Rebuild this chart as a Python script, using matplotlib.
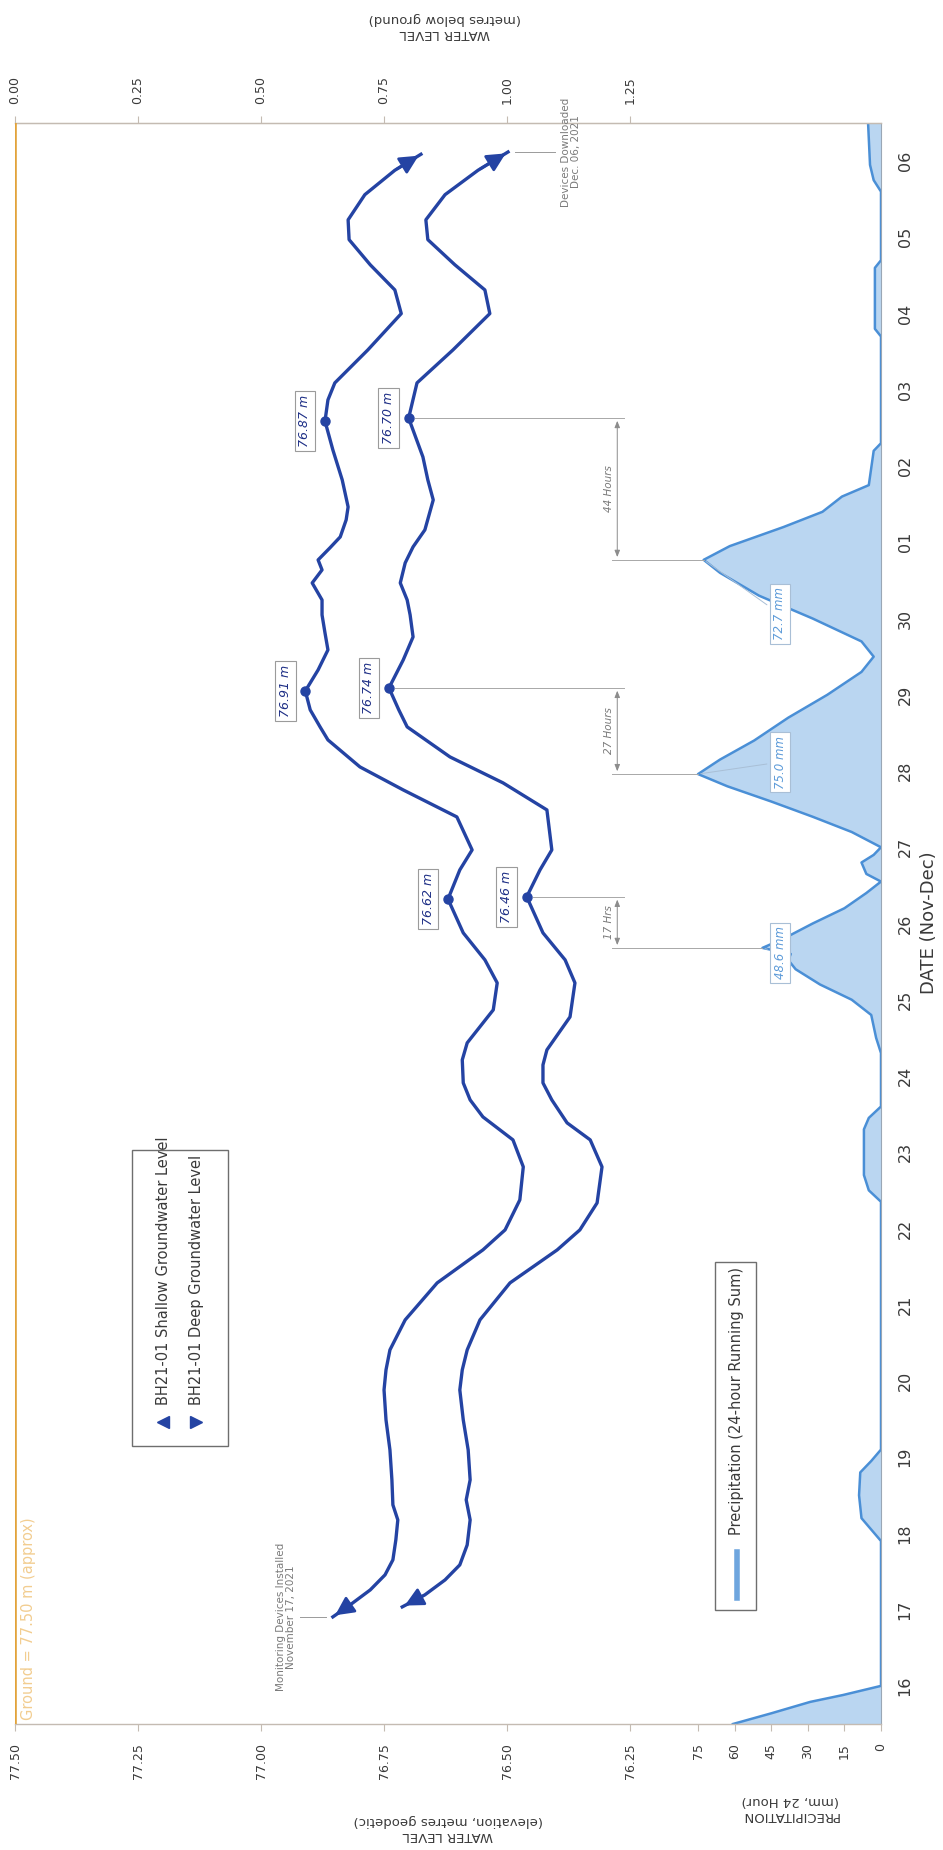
import matplotlib
matplotlib.use("Agg")
import matplotlib.pyplot as plt
from matplotlib.patches import FancyArrowPatch, Rectangle
from matplotlib.lines import Line2D

plt.rcParams["font.family"] = ["DejaVu Sans"]
NARROW = ["Liberation Sans Narrow", "DejaVu Sans"]

# ---------------------------------------------------------------- data
# time axis: days after 16 Nov 2021 00:00
date_labels = ["16", "17", "18", "19", "20", "21", "22", "23", "24", "25",
               "26", "27", "28", "29", "30", "01", "02", "03", "04", "05", "06"]

elevation_ticks = [77.50, 77.25, 77.00, 76.75, 76.50, 76.25]
depth_ticks = [0.00, 0.25, 0.50, 0.75, 1.00, 1.25]
precip_ticks = [0, 15, 30, 45, 60, 75]

ground_elev = 77.50

shallow_day = [0.905, 1.062, 1.259, 1.456, 1.653, 1.915, 2.177, 2.374, 2.702, 3.095,
               3.489, 3.882, 4.145, 4.407, 4.801, 5.286, 5.719, 5.981, 6.375, 6.808,
               7.162, 7.463, 7.686, 7.909, 8.211, 8.434, 8.867, 9.221, 9.523, 9.877,
               10.32, 10.703, 10.965, 11.398, 11.752, 12.054, 12.408, 12.579, 12.802, 13.05,
               13.326, 13.589, 13.812, 14.048, 14.244, 14.467, 14.638, 14.769, 14.927, 15.071,
               15.294, 15.464, 15.819, 16.212, 16.59, 16.868, 17.091, 17.523, 18.0, 18.31,
               18.64, 18.97, 19.23, 19.56, 19.88, 20.09]
shallow_elev = [76.854, 76.819, 76.778, 76.748, 76.732, 76.726, 76.722, 76.732, 76.734, 76.738,
                76.746, 76.750, 76.746, 76.738, 76.707, 76.642, 76.549, 76.504, 76.474, 76.467,
                76.488, 76.549, 76.575, 76.589, 76.591, 76.581, 76.528, 76.520, 76.545, 76.589,
                76.62, 76.596, 76.571, 76.602, 76.711, 76.799, 76.864, 76.880, 76.900, 76.91,
                76.884, 76.864, 76.870, 76.876, 76.876, 76.896, 76.876, 76.884, 76.860, 76.839,
                76.827, 76.823, 76.835, 76.854, 76.87, 76.864, 76.850, 76.783, 76.715, 76.728,
                76.778, 76.821, 76.823, 76.789, 76.728, 76.675]

deep_day = [1.036, 1.194, 1.390, 1.587, 1.849, 2.177, 2.440, 2.702, 3.095, 3.489,
            3.882, 4.145, 4.407, 4.801, 5.286, 5.719, 5.981, 6.335, 6.808, 7.162,
            7.385, 7.686, 7.909, 8.145, 8.342, 8.775, 9.221, 9.523, 9.877, 10.35,
            10.703, 10.965, 11.490, 11.844, 12.185, 12.579, 12.802, 13.09, 13.457, 13.759,
            14.048, 14.244, 14.467, 14.730, 14.940, 15.163, 15.556, 15.819, 16.120, 16.63,
            17.091, 17.523, 18.0, 18.31, 18.64, 18.97, 19.23, 19.56, 19.88, 20.12]
deep_elev = [76.713, 76.667, 76.626, 76.596, 76.581, 76.575, 76.583, 76.575, 76.579, 76.589,
             76.596, 76.591, 76.581, 76.555, 76.494, 76.398, 76.352, 76.317, 76.307, 76.331,
             76.378, 76.409, 76.427, 76.427, 76.419, 76.372, 76.362, 76.382, 76.427, 76.46,
             76.433, 76.409, 76.419, 76.508, 76.616, 76.703, 76.720, 76.74, 76.711, 76.691,
             76.697, 76.703, 76.717, 76.707, 76.691, 76.667, 76.650, 76.661, 76.671, 76.70,
             76.683, 76.610, 76.535, 76.545, 76.606, 76.661, 76.665, 76.626, 76.559, 76.498]

precip_day = [-0.5, -0.36, -0.21, -0.12, 0.0, 1.9, 2.05, 2.2, 2.5, 2.8,
              2.95, 3.1, 6.35, 6.5, 6.7, 7.0, 7.3, 7.45, 7.6, 8.3,
              8.5, 8.8, 9.0, 9.2, 9.4, 9.52, 9.6, 9.68, 9.8, 10.0,
              10.2, 10.4, 10.55, 10.65, 10.8, 10.9, 11.0, 11.2, 11.4, 11.6,
              11.8, 11.96, 12.15, 12.4, 12.7, 13.0, 13.3, 13.5, 13.7, 14.0,
              14.3, 14.6, 14.77, 14.95, 15.2, 15.4, 15.5, 15.6, 15.75, 16.2,
              16.3, 17.7, 17.8, 18.6, 18.7, 19.6, 19.75, 19.95, 20.5]
precip_mm = [60.7, 45.0, 29.0, 15.6, 0.0, 0.0, 4.0, 8.0, 9.0, 8.5,
             4.0, 0.0, 0.0, 5.0, 7.0, 7.0, 7.0, 5.0, 0.0, 0.0,
             2.0, 4.0, 12.0, 25.0, 35.0, 38.0, 37.0, 48.6, 40.0, 28.0,
             15.0, 6.0, 0.0, 6.0, 8.0, 3.0, 0.0, 12.0, 28.0, 45.0,
             63.0, 75.0, 66.0, 52.0, 38.0, 22.0, 8.0, 3.0, 8.0, 28.0,
             50.0, 66.0, 72.7, 62.0, 40.0, 24.0, 20.0, 16.0, 5.0, 3.0,
             0.0, 0.0, 2.5, 2.5, 0.0, 0.0, 3.0, 4.5, 5.3]

shallow_mark_day = [10.32, 13.05, 16.59]
shallow_mark_elev = [76.62, 76.91, 76.87]
deep_mark_day = [10.35, 13.09, 16.63]
deep_mark_elev = [76.46, 76.74, 76.70]
peak_day = [9.68, 11.96, 14.77]
peak_mm = [48.6, 75.0, 72.7]
lag_labels = ["17 Hrs", "27 Hours", "44 Hours"]

# ---------------------------------------------------------------- style
NAVY = "#2443A3"
LABEL_NAVY = "#1E2F86"
RAIN_LINE = "#4A8FD6"
RAIN_FILL = "#BAD6F1"
GROUND = "#E2A33A"
FRAME = "#C4BBB2"
TXT = "#3A3A3A"
NOTE = "#7A7A7A"

W, H = 943, 1850
fig = plt.figure(figsize=(W / 100, H / 100), dpi=100)


def fx(px):
    return px / W


def fy(py):
    return 1 - py / H


rect = [fx(15), fy(1724), (881 - 15) / W, (1724 - 123) / H]

ax_p = fig.add_axes(rect)
ax_w = fig.add_axes(rect, sharey=ax_p)
ax_w.patch.set_visible(False)

ax_p.set_ylim(-0.5, 20.5)
ax_w.set_xlim(77.50, 75.74)
ax_p.set_xlim(355, 0)

# ---- precipitation (24-hour running sum)
ax_p.fill_betweenx(precip_day, 0, precip_mm, color=RAIN_FILL, lw=0, zorder=1)
ax_p.plot(precip_mm, precip_day, color=RAIN_LINE, lw=1.8, zorder=2)

# ---- ground surface
ax_w.axvline(ground_elev, color=GROUND, lw=2.6, zorder=3)

# ---- groundwater levels with end arrows
for elev, day in ((shallow_elev, shallow_day), (deep_elev, deep_day)):
    ax_w.plot(elev, day, color=NAVY, lw=2.4, zorder=4, solid_joinstyle="round")
    for a, b in ((1, 0), (-2, -1)):
        ax_w.add_patch(FancyArrowPatch((elev[a], day[a]), (elev[b], day[b]),
                                       arrowstyle="-|>,head_length=0.7,head_width=0.35",
                                       mutation_scale=16, color=NAVY, lw=2.0, zorder=5))

# ---- marked levels
for e, d in zip(shallow_mark_elev + deep_mark_elev, shallow_mark_day + deep_mark_day):
    ax_w.plot([e], [d], "o", color=NAVY, ms=6.5, zorder=6)
    ax_w.annotate(f"{e:.2f} m", xy=(e, d), xytext=(-20, 0), textcoords="offset pixels",
                  rotation=90, ha="center", va="center", fontsize=9, style="italic",
                  color=LABEL_NAVY, zorder=7,
                  bbox=dict(boxstyle="square,pad=0.3", fc="white", ec="#9B9B9B", lw=0.8))

# ---- lag brackets between rainfall peaks and deep response
bracket_elev = 76.276
dot_end_elev = 76.262
for i in range(3):
    d_dot, d_pk = deep_mark_day[i], peak_day[i]
    ax_w.plot([deep_mark_elev[i] - 0.012, dot_end_elev], [d_dot, d_dot],
              color="#A8A8A8", lw=0.7, zorder=2)
    far = ax_p.transData.inverted().transform(
        ax_w.transData.transform((bracket_elev + 0.01, d_pk)))[0]
    ax_p.plot([peak_mm[i], far], [d_pk, d_pk], color="#A8A8A8", lw=0.7, zorder=2)
    ax_w.annotate("", xy=(bracket_elev, d_dot), xytext=(bracket_elev, d_pk),
                  arrowprops=dict(arrowstyle="<|-|>,head_length=0.5,head_width=0.2",
                                  color="#8C8C8C", lw=0.7, mutation_scale=8))
    ax_w.text(bracket_elev + 0.016, (d_dot + d_pk) / 2, lag_labels[i], rotation=90,
              ha="center", va="center", fontsize=7.5, style="italic", color=NOTE,
              family=NARROW)

# ---- rainfall peak labels (offsets in pixels from each peak)
peak_label_offset = [(18, -5), (82, 12), (76, -54)]
for (p, d), off in zip(zip(peak_mm, peak_day), peak_label_offset):
    ax_p.annotate(f"{p:.1f} mm", xy=(p, d), xytext=off,
                  textcoords="offset pixels", rotation=90, ha="center", va="center",
                  fontsize=8.5, style="italic", color="#5D9BD9", zorder=6,
                  bbox=dict(boxstyle="square,pad=0.3", fc="white", ec="#A9BFD6", lw=0.8),
                  arrowprops=dict(arrowstyle="-", color="#A9BFD6", lw=0.7))

# ---- install / download notes
ax_w.plot([76.921, 76.868], [shallow_day[0]] * 2, color="#9A9A9A", lw=0.7)
ax_w.text(76.949, shallow_day[0], "Monitoring Devices Installed\nNovember 17, 2021",
          rotation=90, ha="center", va="center", fontsize=7.5, color=NOTE,
          multialignment="center", linespacing=1.0)
ax_w.plot([deep_elev[-1] - 0.014, 76.402], [deep_day[-1]] * 2, color="#9A9A9A", lw=0.7)
ax_w.text(76.37, deep_day[-1], "Devices Downloaded\nDec. 06, 2021",
          rotation=90, ha="center", va="center", fontsize=7.5, color=NOTE,
          multialignment="center", linespacing=1.0)
ax_w.text(77.472, -0.45, "Ground = 77.50 m (approx)", rotation=90, ha="center",
          va="bottom", fontsize=10.5, color="#F2CD90")

# ---- axes, ticks and spines
for s in ("left", "right"):
    ax_w.spines[s].set_visible(False)
for s in ("top", "bottom"):
    ax_w.spines[s].set_color(FRAME)
    ax_w.spines[s].set_linewidth(1.0)
for s in ("left", "top", "bottom"):
    ax_p.spines[s].set_visible(False)
ax_p.spines["right"].set_color("#9AA7B5")

ax_w.set_xticks(elevation_ticks)
ax_w.set_xticklabels([f"{v:.2f}" for v in elevation_ticks])
ax_w.tick_params(axis="x", direction="out", length=5, color=FRAME, pad=9,
                 labelsize=9, labelcolor=TXT, labelrotation=90)
ax_w.tick_params(axis="y", left=False, labelleft=False, right=False, labelright=False)

depth = ax_w.secondary_xaxis("top", functions=(lambda e: ground_elev - e,
                                               lambda z: ground_elev - z))
depth.set_xticks(depth_ticks)
depth.set_xticklabels([f"{v:.2f}" for v in depth_ticks])
depth.tick_params(axis="x", direction="out", length=5, color=FRAME, pad=9,
                  labelsize=9, labelcolor=TXT, labelrotation=90)
depth.spines["top"].set_color(FRAME)

ax_p.set_xticks(precip_ticks)
ax_p.set_xticklabels([str(v) for v in precip_ticks])
ax_p.tick_params(axis="x", direction="out", length=5, color=FRAME, pad=9,
                 labelsize=9, labelcolor=TXT, labelrotation=90)
ax_p.set_yticks(range(len(date_labels)))
ax_p.set_yticklabels(date_labels, family=NARROW)
ax_p.yaxis.tick_right()
ax_p.tick_params(axis="y", length=0, pad=12, labelsize=11.5, labelcolor=TXT,
                 labelrotation=90, left=False)
for lab in ax_p.get_yticklabels():
    lab.set_va("center")

# ---- axis titles
fig.text(fx(448), fy(1828), "WATER LEVEL\n(elevation, metres geodetic)", rotation=180,
         ha="center", va="center", fontsize=9.5, color=TXT, multialignment="center",
         linespacing=1.3)
fig.text(fx(790), fy(1808), "PRECIPITATION\n(mm, 24 Hour)", rotation=180,
         ha="center", va="center", fontsize=9.5, color=TXT, multialignment="center",
         linespacing=1.3)
fig.text(fx(445), fy(26), "WATER LEVEL\n(metres below ground)", rotation=180,
         ha="center", va="center", fontsize=9.5, color=TXT, multialignment="center",
         linespacing=1.3)
fig.text(fx(929), fy(923), "DATE (Nov-Dec)", rotation=90, ha="center", va="center",
         fontsize=13, color=TXT, family=NARROW)

# ---- legends (drawn upright on the page, rotated text)
def legend_box(x0, y0, x1, y1):
    fig.add_artist(Rectangle((fx(x0), fy(y1)), fx(x1) - fx(x0), fy(y0) - fy(y1),
                             transform=fig.transFigure, fc="white", ec="#6E6E6E",
                             lw=1.0, zorder=8))


legend_box(132, 1150, 228, 1446)
for xc, mk, name in ((163, "<", "BH21-01 Shallow Groundwater Level"),
                     (196, ">", "BH21-01 Deep Groundwater Level")):
    fig.add_artist(Line2D([fx(xc)], [fy(1422)], marker=mk, color=NAVY, ms=8,
                          transform=fig.transFigure, zorder=9))
    fig.text(fx(xc), fy(1405), name, rotation=90, ha="center", va="bottom",
             fontsize=10.5, color=TXT, family=NARROW, zorder=9)

legend_box(715, 1262, 756, 1610)
fig.add_artist(Line2D([fx(737), fx(737)], [fy(1598), fy(1552)], color=RAIN_LINE,
                      lw=4, alpha=0.8, transform=fig.transFigure, zorder=9))
fig.text(fx(737), fy(1535), "Precipitation (24-hour Running Sum)", rotation=90,
         ha="center", va="bottom", fontsize=10.5, color=TXT, family=NARROW, zorder=9)

fig.savefig("out.png", dpi=100)
